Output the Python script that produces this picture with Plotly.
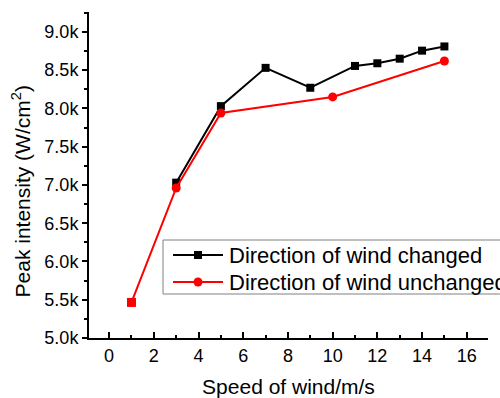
import plotly.graph_objects as go

# Data
x_changed = [3, 5, 7, 9, 11, 12, 13, 14, 15]
y_changed = [7030, 8030, 8530, 8270, 8555, 8590, 8650, 8755, 8810]
x_unchanged = [1, 3, 5, 10, 15]
y_unchanged = [5465, 6960, 7940, 8150, 8620]
name_changed = "Direction of wind changed"
name_unchanged = "Direction of wind unchanged"

FONT = "Liberation Sans, Arial, sans-serif"
W, H = 500, 398
ML, MR, MT, MB = 89, 12, 12, 60
PW, PH = W - ML - MR, H - MT - MB


def px(xp):
    return (xp - ML) / PW


def py(yp):
    return (H - MB - yp) / PH


fig = go.Figure()
fig.add_trace(go.Scatter(
    x=x_changed, y=y_changed, mode="lines+markers", name=name_changed,
    line=dict(color="black", width=2),
    marker=dict(symbol="square", size=8, color="black"),
    cliponaxis=False, showlegend=False,
))
fig.add_trace(go.Scatter(
    x=x_unchanged, y=y_unchanged, mode="lines+markers", name=name_unchanged,
    line=dict(color="#ff0000", width=2),
    marker=dict(symbol="circle", size=9, color="#ff0000"),
    cliponaxis=False, showlegend=False,
))
# first point of the unchanged series is drawn as a square in the reference
fig.add_trace(go.Scatter(
    x=x_unchanged[:1], y=y_unchanged[:1], mode="markers", showlegend=False,
    marker=dict(symbol="square", size=9, color="#ff0000"),
    cliponaxis=False, hoverinfo="skip",
))

# Legend drawn as shapes + annotations (box runs past the right edge as in the reference)
shapes = [
    dict(type="rect", xref="paper", yref="paper", x0=px(163), x1=px(520), y0=py(294), y1=py(240),
         line=dict(color="#808080", width=1), fillcolor="white", layer="above"),
    dict(type="line", xref="paper", yref="paper", x0=px(173), x1=px(223), y0=py(255), y1=py(255),
         line=dict(color="black", width=2), layer="above"),
    dict(type="rect", xref="paper", yref="paper", x0=px(194), x1=px(202), y0=py(259), y1=py(251),
         line=dict(color="black", width=0), fillcolor="black", layer="above"),
    dict(type="line", xref="paper", yref="paper", x0=px(173), x1=px(223), y0=py(282), y1=py(282),
         line=dict(color="#ff0000", width=2), layer="above"),
    dict(type="circle", xref="paper", yref="paper", x0=px(193.5), x1=px(202.5), y0=py(286.5), y1=py(277.5),
         line=dict(color="#ff0000", width=0), fillcolor="#ff0000", layer="above"),
]
legend_texts = [
    dict(text=name_changed, xref="paper", yref="paper", x=px(227), y=py(255.5),
         xanchor="left", yanchor="middle", showarrow=False, font=dict(size=22, family=FONT)),
    dict(text=name_unchanged, xref="paper", yref="paper", x=px(227), y=py(282.5),
         xanchor="left", yanchor="middle", showarrow=False, font=dict(size=22, family=FONT)),
]

fig.update_layout(
    width=W, height=H,
    margin=dict(l=ML, r=MR, t=MT, b=MB, autoexpand=False),
    paper_bgcolor="white", plot_bgcolor="white",
    font=dict(family=FONT, color="black"),
    showlegend=False,
    xaxis=dict(
        range=[-0.9, 16.95], showgrid=False, zeroline=False,
        showline=True, linecolor="black", linewidth=2,
        ticks="inside", ticklen=6, tickwidth=2, tickcolor="black",
        dtick=2, tick0=0,
        minor=dict(ticks="inside", ticklen=3, tickwidth=2, dtick=1, tick0=0, tickcolor="black"),
        tickfont=dict(size=18, family=FONT),
        title=dict(text="Speed of wind/m/s", font=dict(size=21, family=FONT), standoff=17),
    ),
    yaxis=dict(
        range=[5000, 9260], showgrid=False, zeroline=False,
        showline=True, linecolor="black", linewidth=2,
        ticks="outside", ticklen=5, tickwidth=2, tickcolor="black",
        dtick=500, tick0=5000, tickformat=".2s",
        minor=dict(ticks="outside", ticklen=3, tickwidth=2, dtick=250, tick0=5000, tickcolor="black"),
        tickfont=dict(size=18, family=FONT),
    ),
    shapes=shapes,
    annotations=[dict(
        text="Peak intensity (W/cm<sup>2</sup>)", textangle=-90,
        xref="paper", yref="paper", x=-0.17, y=0.45,
        xanchor="center", yanchor="middle", showarrow=False,
        font=dict(size=21, family=FONT),
    )] + legend_texts,
)

fig.write_html("out.html")
